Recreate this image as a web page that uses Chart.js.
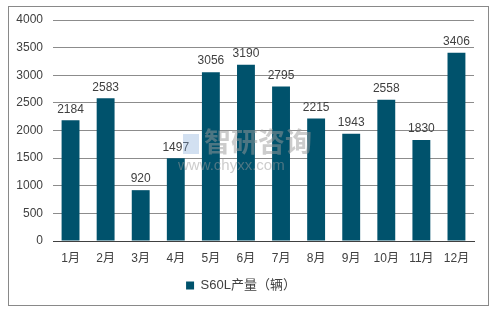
<!DOCTYPE html>
<html>
<head>
<meta charset="utf-8">
<script src="https://cdn.jsdelivr.net/npm/chart.js@4/dist/chart.umd.min.js"></script>
<style>
html,body{margin:0;padding:0;background:#fff;}
#wrap{width:496px;height:310px;position:relative;}
</style>
</head>
<body>
<div id="wrap"><canvas id="c" width="496" height="310"></canvas></div>
<script>
const categories = ['1月','2月','3月','4月','5月','6月','7月','8月','9月','10月','11月','12月'];
const seriesName = 'S60L产量（辆）';
const values = [2184, 2583, 920, 1497, 3056, 3190, 2795, 2215, 1943, 2558, 1830, 3406];
const yTicks = [0, 500, 1000, 1500, 2000, 2500, 3000, 3500, 4000];

const FONT = "'Liberation Sans', Arial, 'Noto Sans CJK SC', sans-serif";
const TXT = '#404040';

const frame = {
  id: 'frame',
  beforeDraw(chart) {
    const ctx = chart.ctx;
    ctx.save();
    ctx.fillStyle = '#fff';
    ctx.fillRect(0, 0, chart.width, chart.height);
    ctx.strokeStyle = '#898989';
    ctx.lineWidth = 1;
    ctx.strokeRect(8.5, 6.5, 480, 299);
    ctx.restore();
  }
};

const labels = {
  id: 'labels',
  afterDatasetsDraw(chart) {
    const ctx = chart.ctx;
    ctx.save();
    ctx.font = '12px ' + FONT;
    ctx.fillStyle = TXT;
    ctx.textAlign = 'center';
    ctx.textBaseline = 'bottom';
    chart.getDatasetMeta(0).data.forEach((bar, i) => {
      ctx.fillText(String(values[i]), bar.x, bar.y - 5);
    });
    // watermark
    ctx.globalAlpha = 0.5;
    ctx.fillStyle = '#9a9a9a';
    ctx.textAlign = 'left';
    ctx.textBaseline = 'middle';
    ctx.font = 'bold 27px ' + FONT;
    ctx.fillText('智研咨询', 204, 145);
    ctx.font = '15px ' + FONT;
    ctx.fillText('www.chyxx.com', 178, 166);
    ctx.globalAlpha = 0.35;
    ctx.fillStyle = '#7fa6d8';
    ctx.fillRect(183, 134, 16, 20);
    ctx.restore();
  }
};

new Chart(document.getElementById('c'), {
  type: 'bar',
  data: {
    labels: categories,
    datasets: [{
      label: seriesName,
      data: values,
      backgroundColor: '#00526c',
      borderWidth: 0,
      categoryPercentage: 1.0,
      barPercentage: 0.51
    }]
  },
  options: {
    responsive: false,
    animation: false,
    devicePixelRatio: 1,
    layout: { padding: { left: 8, right: 22, top: 20, bottom: 8 } },
    plugins: {
      tooltip: { enabled: false },
      legend: {
        position: 'bottom',
        labels: {
          boxWidth: 8, boxHeight: 8, color: TXT,
          font: { family: FONT, size: 13 },
          padding: 10
        }
      }
    },
    scales: {
      x: {
        grid: { display: false, drawTicks: false },
        border: { display: true, color: '#404040', width: 1 },
        ticks: { color: TXT, font: { family: FONT, size: 12 }, padding: 10, maxRotation: 0, autoSkip: false },
        afterFit(s) { s.height = 28; }
      },
      y: {
        min: 0, max: 4000,
        afterBuildTicks(s) { s.ticks = yTicks.map(v => ({ value: v })); },
        grid: { color: '#8c8c8c', drawTicks: false, lineWidth: 1 },
        border: { display: false },
        ticks: { color: TXT, font: { family: FONT, size: 12 }, padding: 10, callback: (v) => String(v) },
        afterFit(s) { s.width = 45; }
      }
    }
  },
  plugins: [frame, labels]
});
</script>
</body>
</html>
